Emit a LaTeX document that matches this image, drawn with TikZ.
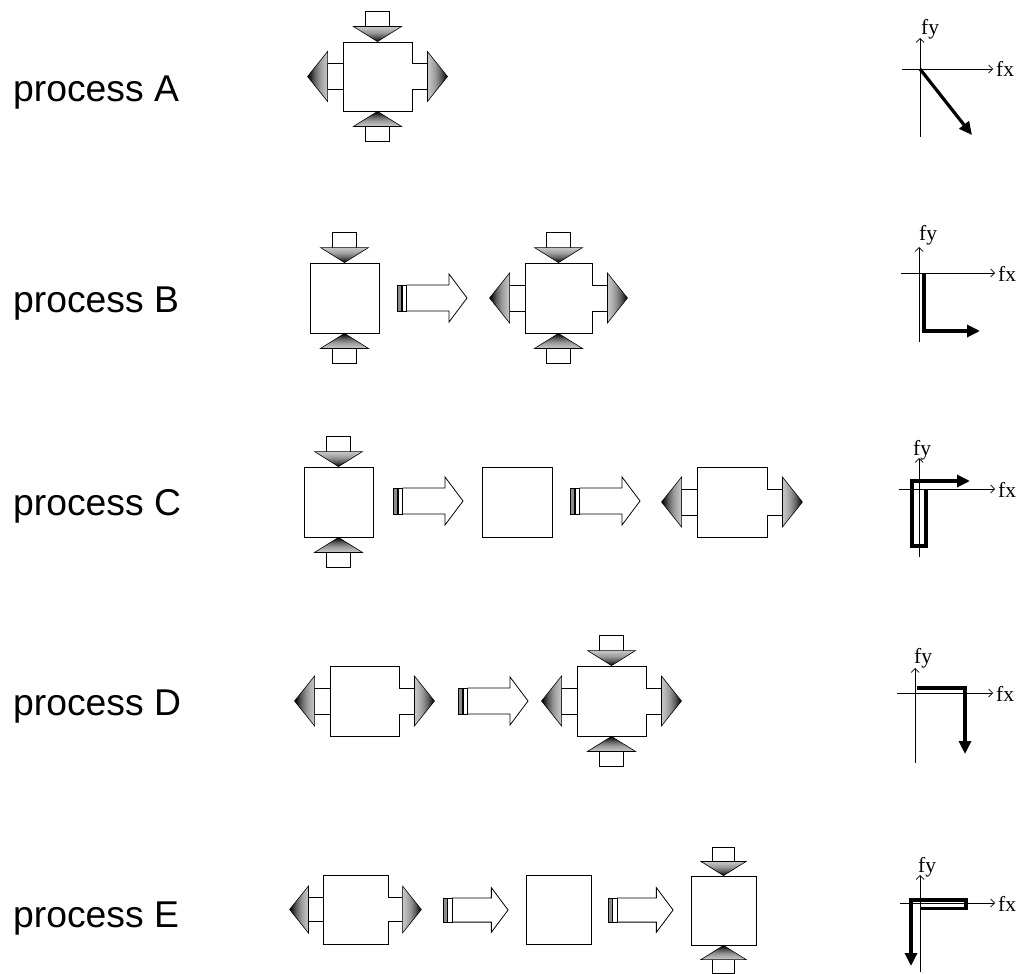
\documentclass[tikz,border=0pt]{standalone}
\usepackage{fontspec}
\setmainfont{Liberation Serif}
\newfontfamily\labelfont{Liberation Sans}
\usetikzlibrary{arrows.meta}

% dark at the tip, fading towards the base of an arrow head
\pgfdeclareverticalshading{headshade}{100bp}{color(0bp)=(black); color(25bp)=(black); color(31bp)=(black!88); color(42bp)=(black!62); color(55bp)=(black!40); color(68bp)=(black!27); color(75bp)=(black!22); color(100bp)=(black!22)}

\tikzset{
  x=1pt, y=-1pt,
  block/.style={draw, line width=0.9pt, fill=white, inner sep=0pt, minimum width=69pt, minimum height=70pt},
  blocksm/.style={block, minimum width=65pt, minimum height=69pt},
  proclabel/.style={font=\labelfont\fontsize{37.3}{40}\selectfont, anchor=base west, inner sep=0pt},
  axis/.style={line width=0.7pt, -{Straight Barb[length=4pt,width=8pt]}},
  forceline/.style={line width=3.2pt, line join=miter, -{Triangle[length=13pt,width=12pt]}},
  axlabel/.style={font=\fontsize{21.5}{23}\selectfont, inner sep=0pt, anchor=base west},
  outline/.style={draw, line width=0.8pt, line join=miter},
  head/.style={shading=headshade, draw, line width=0.6pt, line join=miter},
  % compressive load from above, tip on the block's top face
  pics/pushdown/.style={code={
    \draw[outline, fill=white] (-12,-15) -- (-12,-30) -- (12,-30) -- (12,-15);
    \shadedraw[head, shading angle=0] (-24,-15) -- (24,-15) -- (0,0) -- cycle;
  }},
  % compressive load from below
  pics/pushup/.style={code={
    \draw[outline, fill=white] (-12,15) -- (-12,30) -- (12,30) -- (12,15);
    \shadedraw[head, shading angle=180] (-24,15) -- (24,15) -- (0,0) -- cycle;
  }},
  % tensile load to the right
  pics/pullright/.style={code={
    \draw[outline, fill=white] (0,-13) -- (15,-13) -- (15,13) -- (0,13);
    \shadedraw[head, shading angle=90] (15,-25) -- (35,0) -- (15,25) -- cycle;
  }},
  % tensile load to the left
  pics/pullleft/.style={code={
    \draw[outline, fill=white] (0,-13) -- (-15,-13) -- (-15,13) -- (0,13);
    \shadedraw[head, shading angle=-90] (-15,-25) -- (-35,0) -- (-15,25) -- cycle;
  }},
  % hollow step arrow between stages
  pics/procarrow/.style={code={
    \filldraw[fill=black!45, line width=0.5pt] (0,-13) rectangle (4.3,13);
    \draw[line width=0.6pt] (5,-13) rectangle (9.7,13);
    \draw[outline] (9.7,-13) -- (52,-13) -- (52,-24) -- (70,0) -- (52,24) -- (52,13) -- (9.7,13);
  }}
}

\begin{document}
\begin{tikzpicture}
\useasboundingbox (0,0) rectangle (1020,974);

% ---- labels
\node[proclabel] (labA) at (13,101) {process A};
\node[proclabel] (labB) at (13,312) {process B};
\node[proclabel] (labC) at (13,515) {process C};
\node[proclabel] (labD) at (13,715) {process D};
\node[proclabel] (labE) at (13,927) {process E};

% ---- process A
\node[block, minimum height=69pt] (A1) at (377.5,76.5) {};
\pic at (A1.north) {pushdown};
\pic at (A1.south) {pushup};
\pic at (A1.east) {pullright};
\pic at (A1.west) {pullleft};

% ---- process B
\node[block] (B1) at (344.5,298) {};
\pic at (B1.north) {pushdown};
\pic at (B1.south) {pushup};
\pic at (397,298) {procarrow};
\node[block, minimum width=67pt] (B2) at (558.5,298) {};
\pic at (B2.north) {pushdown};
\pic at (B2.south) {pushup};
\pic at (B2.east) {pullright};
\pic at (B2.west) {pullleft};

% ---- process C
\node[block] (C1) at (338.5,502) {};
\pic at (C1.north) {pushdown};
\pic at (C1.south) {pushup};
\pic at (393,501) {procarrow};
\node[block, minimum width=70pt] (C2) at (517,502) {};
\pic at (570,501) {procarrow};
\node[block, minimum width=70pt] (C3) at (732,502) {};
\pic at (C3.east) {pullright};
\pic at (C3.west) {pullleft};

% ---- process D
\node[block] (D1) at (364.5,701) {};
\pic at (D1.east) {pullright};
\pic at (D1.west) {pullleft};
\pic at (458,701) {procarrow};
\node[block] (D2) at (611.5,701) {};
\pic at (D2.north) {pushdown};
\pic at (D2.south) {pushup};
\pic at (D2.east) {pullright};
\pic at (D2.west) {pullleft};

% ---- process E
\node[blocksm] (E1) at (355.5,909.5) {};
\pic[scale=0.94] at (E1.east) {pullright};
\pic[scale=0.94] at (E1.west) {pullleft};
\pic[scale=0.93] at (443,910) {procarrow};
\node[blocksm] (E2) at (558.5,909.5) {};
\pic[scale=0.93] at (608,910) {procarrow};
\node[blocksm] (E3) at (723.5,910.5) {};
\pic[scale=0.94] at (E3.north) {pushdown};
\pic[scale=0.94] at (E3.south) {pushup};

% ---- force paths
% A
\coordinate (oA) at (920,69);
\draw[axis] (920,137) -- (920,38);
\draw[axis] (902,69) -- (993,69);
\node[axlabel] (fyA) at (921,35) {fy};
\node[axlabel] (fxA) at (996,76.5) {fx};
\draw[forceline] (oA) -- (972,135);

% B
\coordinate (oB) at (919,273);
\draw[axis] (919,342) -- (919,247);
\draw[axis] (901,273) -- (995,273);
\node[axlabel] (fyB) at (919,240) {fy};
\node[axlabel] (fxB) at (998,281) {fx};
\draw[forceline] (924,274) -- (924,331) -- (980,331);

% C
\coordinate (oC) at (919,489);
\draw[axis] (919,557) -- (919,458);
\draw[axis] (899,489) -- (995,489);
\node[axlabel] (fyC) at (913,455) {fy};
\node[axlabel] (fxC) at (998,497) {fx};
\draw[forceline] (926,489) -- (926,546) -- (912,546) -- (912,481) -- (970,481);

% D
\coordinate (oD) at (915,693);
\draw[axis] (915,763) -- (915,668);
\draw[axis] (897,693) -- (993,693);
\node[axlabel] (fyD) at (914,663) {fy};
\node[axlabel] (fxD) at (996,701) {fx};
\draw[forceline] (917,688) -- (965,688) -- (965,754);

% E
\coordinate (oE) at (920,903);
\draw[axis] (920,972) -- (920,875);
\draw[axis] (900,903) -- (995,903);
\node[axlabel] (fyE) at (918,872) {fy};
\node[axlabel] (fxE) at (998,911) {fx};
\draw[forceline] (920,908.5) -- (966,908.5) -- (966,900) -- (911,900) -- (911,966);
\end{tikzpicture}
\end{document}
